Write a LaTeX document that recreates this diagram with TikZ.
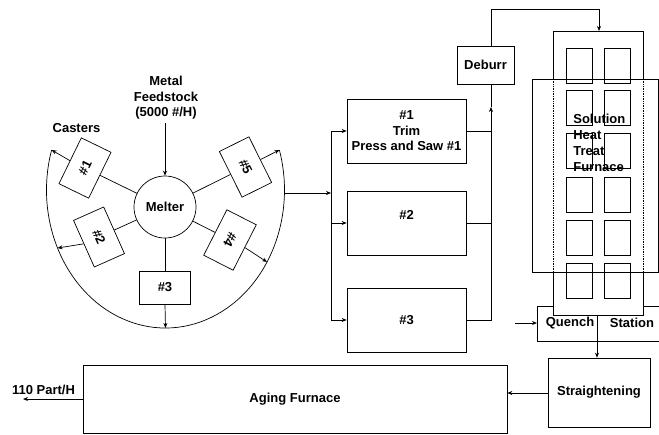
\documentclass[tikz,border=0pt]{standalone}
\usepackage{fontspec}
\setmainfont{Liberation Sans}
\usetikzlibrary{arrows.meta,calc}
\begin{document}
\begin{tikzpicture}[x=1pt,y=1pt,line width=0.7pt,
  >={Stealth[length=5pt,width=4pt]},
  lbl/.style={font=\bfseries\fontsize{13}{15.5}\selectfont,align=center},
  boxn/.style={draw,inner sep=0pt},
  caster/.style={draw,minimum width=51pt,minimum height=33pt,inner sep=0pt,
    font=\bfseries\fontsize{13}{15.5}\selectfont},
  smallrect/.style={draw,minimum width=26pt,minimum height=35pt,inner sep=0pt}]
\useasboundingbox (0,0) rectangle (659,-434);

% ---------- melter and casters ----------
\node[lbl] (feed) at (166,-98) {Metal\\Feedstock\\(5000 \#/H)};
\node[lbl] (cast) at (76.5,-128) {Casters};
\node[circle,draw,minimum size=62pt,inner sep=0pt,lbl] (m) at (165,-207) {Melter};
\draw[->] (feed.south -| m) -- (m.north);

\node[caster,rotate=64]    (c1) at (85,-168)   {\#1};
\node[caster,rotate=-66]   (c2) at (99,-237)   {\#2};
\node[caster]              (c3) at (165,-287.5) {\#3};
\node[caster,rotate=243]   (c4) at (230,-240)  {\#4};
\node[caster,rotate=-63.6] (c5) at (245.5,-167) {\#5};
\foreach \c in {c1,c2,c3,c4,c5} \draw (m) -- (\c);

\coordinate (E) at (165.5,-190);
\coordinate (a1) at ($(E)+(163.15:119pt and 138pt)$);
\coordinate (a2) at ($(E)+(204.86:119pt and 138pt)$);
\coordinate (a3) at ($(E)+(270:119pt and 138pt)$);
\coordinate (a4) at ($(E)+(-31.45:119pt and 138pt)$);
\coordinate (a5) at ($(E)+(16.85:119pt and 138pt)$);
\coordinate (aR) at ($(E)+(-1.25:119pt and 138pt)$);
\draw (a1) arc[start angle=163.15,end angle=376.85,x radius=119pt,y radius=138pt];
\draw[->] (c1.north) -- (a1);
\draw[->] (c2.south) -- (a2);
\draw[->] (c3.south) -- (a3);
\draw[->] (c4.north) -- (a4);
\draw[->] (c5.north) -- (a5);

% ---------- trim presses ----------
\node[boxn,minimum width=119pt,minimum height=64pt,lbl] (t1) at (406.5,-131) {\#1\\Trim\\Press and Saw \#1};
\node[boxn,minimum width=119pt,minimum height=64pt] (t2) at (406.5,-223) {};
\node[lbl] (t2l) at (406.5,-215) {\#2};
\node[boxn,minimum width=119pt,minimum height=64pt,lbl] (t3) at (406.5,-320) {\#3};

\coordinate (sp) at (331,-193);
\draw[->] (aR |- sp) -- (sp);
\draw (sp |- t1.west) -- (sp |- t3.west);
\draw[->] (sp |- t1.west) -- (t1.west);
\draw[->] (sp |- t2.west) -- (t2.west);
\draw[->] (sp |- t3.west) -- (t3.west);

\node[boxn,minimum width=57pt,minimum height=38pt,lbl] (deb) at (485.5,-65) {Deburr};
\coordinate (up) at (491,-107);
\draw (t1.east) -- (t1.east -| up);
\draw (t2.east) -- (t2.east -| up);
\draw[->] (t3.east) -| (up);
\draw (up) -- (up |- deb.south);

% ---------- solution heat treat furnace ----------
\coordinate (ftop) at (599,-31);
\draw[->] (up |- deb.north) -- (491,-9) -| (ftop);
\draw (553,-79) -- (553,-31) -- (643,-31) -- (643,-79);
\draw[densely dotted] (553,-79) -- (553,-272) (643,-79) -- (643,-272);
\draw (553,-272) -- (553,-315) -- (643,-315) -- (643,-272);
\draw (532,-79) rectangle (658,-272);
\foreach \yy [count=\i] in {65.5,108,151,194.5,237.5,280.5} {
  \node[smallrect] (sl\i) at (579,-\yy) {};
  \node[smallrect] (sr\i) at (617,-\yy) {};
}
\node[lbl,align=left,anchor=west,inner sep=0pt,font=\bfseries\fontsize{13}{16}\selectfont] (sol) at (573,-143) {Solution\\Heat\\Treat\\Furnace};

% ---------- quench station ----------
\draw (553,-306) -- (537,-306) -- (537,-341) -- (659,-341);
\draw (643,-306) -- (659,-306);
\coordinate (qL) at (537,-323);
\coordinate (qin) at (515,-323);
\draw[->] (qin) -- (qL);
\node[lbl] (qu) at (570,-323) {Quench};
\node[lbl] (st) at (632,-323) {Station};

% ---------- straightening and aging ----------
\node[boxn,minimum width=102pt,minimum height=69pt,lbl] (str) at (599,-392.5) {Straightening};
\coordinate (qd) at (597,-315);
\draw[->] (qd) -- (qd |- str.north);
\node[boxn,minimum width=424pt,minimum height=68pt,lbl] (age) at (295,-399) {Aging Furnace};
\draw[->] (str.west |- 0,-393) -- (age.east |- 0,-393);
\coordinate (out) at (23,-399);
\draw[->] (age.west) -- (out);
\node[lbl] (outl) at (43.5,-390) {110 Part/H};
\end{tikzpicture}
\end{document}
